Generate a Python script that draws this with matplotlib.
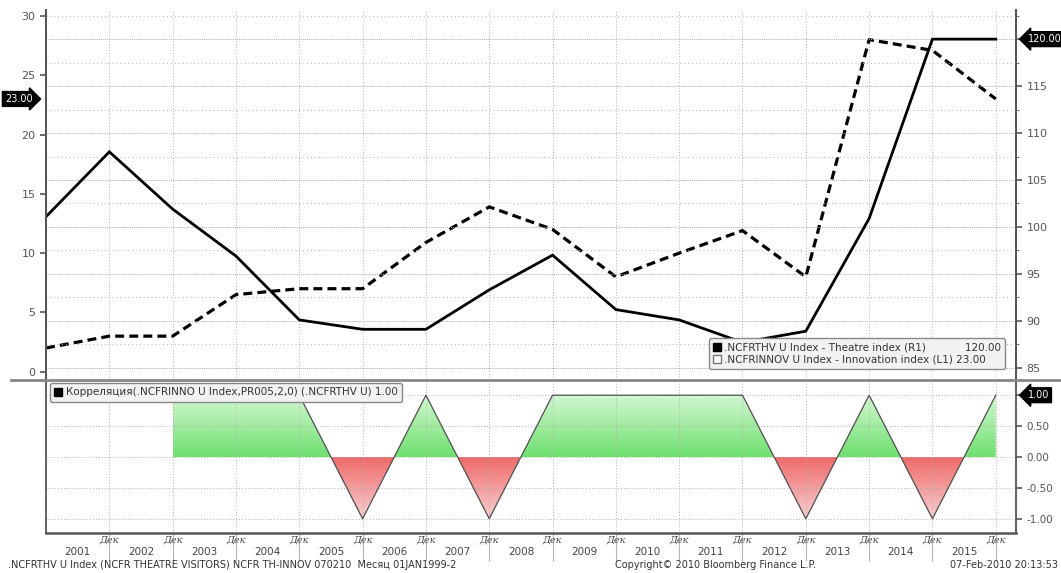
import numpy as np
import matplotlib.pyplot as plt
import matplotlib.transforms as mtransforms
from matplotlib.colors import LinearSegmentedColormap
from matplotlib.patches import PathPatch
from matplotlib.path import Path
from matplotlib.lines import Line2D

# December of each year
years = np.arange(2000, 2016)
theatre = [101.1, 108.0, 101.9, 96.9, 90.1, 89.1, 89.1, 93.3, 97.0, 91.2,
           90.1, 87.7, 88.9, 100.9, 120.0, 120.0]          # R1
innovation = [2.0, 3.0, 3.0, 6.5, 7.0, 7.0, 10.9, 13.9, 12.0, 8.0,
              10.0, 11.9, 8.0, 28.0, 27.1, 23.0]            # L1
correlation = [np.nan, np.nan, 1, 1, 1, -1, 1, -1, 1, 1, 1, 1, -1, 1, -1, 1]
year_labels = [str(y) for y in range(2001, 2016)]
month_label = 'Дек'

GRAY = '#555555'
GRID = '#b0b0b0'

fig = plt.figure(figsize=(10.61, 5.73), dpi=100)
ax = fig.add_axes([0.0434, 0.3368, 0.9142, 0.6457])
ax2 = ax.twinx()
axc = fig.add_axes([0.0434, 0.0698, 0.9142, 0.2653])

xmin, xmax = 2000, 2015.32

# ---- top panel ----
ax.plot(years, innovation, color='black', lw=2.3, ls=(0, (2.8, 1.6)))
ax2.plot(years, theatre, color='black', lw=2.0, solid_joinstyle='miter')

ax.set_xlim(xmin, xmax)
ax.set_ylim(-0.7, 30.5)
ax2.set_ylim(83.7, 123.1)

ax.set_yticks(range(0, 31, 5))
ax2.set_yticks(range(85, 121, 5))
ax2.set_yticks(np.arange(87.5, 123, 5), minor=True)
ax2.set_yticklabels([str(v) for v in range(85, 116, 5)] + [''])
ax.set_xticks(years[1:])
ax.tick_params(axis='x', length=0, labelbottom=False)
ax.tick_params(axis='y', colors=GRAY, labelsize=8, length=4, width=1.2)
ax2.tick_params(axis='y', colors=GRAY, labelsize=8, length=4, width=1.2)
ax2.tick_params(axis='y', which='minor', length=2, color=GRAY)

ax2.grid(axis='y', which='major', color=GRID, ls=(0, (1, 1)), lw=0.7)
ax2.grid(axis='y', which='minor', color=GRID, ls=(0, (1, 3)), lw=0.7)
ax.grid(axis='x', color=GRID, ls=(0, (1, 2)), lw=0.7)

for a in (ax, ax2):
    a.spines['top'].set_visible(False)
    a.spines['bottom'].set_visible(False)
    a.spines['left'].set_color(GRAY)
    a.spines['right'].set_color(GRAY)
    a.spines['left'].set_linewidth(1.3)
    a.spines['right'].set_linewidth(1.3)

# value tags
ax.text(-0.014, innovation[-1], f'{innovation[-1]:.2f}', color='white', fontsize=7,
        ha='right', va='center', transform=mtransforms.blended_transform_factory(ax.transAxes, ax.transData),
        bbox=dict(boxstyle='rarrow,pad=0.25', fc='black', ec='black'), clip_on=False)
ax2.text(1.012, theatre[-1], f'{theatre[-1]:.2f}', color='white', fontsize=7,
         ha='left', va='center', transform=mtransforms.blended_transform_factory(ax2.transAxes, ax2.transData),
         bbox=dict(boxstyle='larrow,pad=0.25', fc='black', ec='black'), clip_on=False, zorder=10)

handles = [Line2D([], [], ls='none', marker='s', ms=6, mfc='black', mec='black'),
           Line2D([], [], ls='none', marker='s', ms=6, mfc='white', mec='#777777')]
labels = [f'.NCFRTHV U Index - Theatre index (R1)            {theatre[-1]:.2f}',
          f'.NCFRINNOV U Index - Innovation index (L1) {innovation[-1]:.2f}']
leg = ax2.legend(handles, labels, loc='lower right', bbox_to_anchor=(0.989, 0.03), fontsize=7.5,
                 frameon=True, fancybox=True, handlelength=0.8, handletextpad=0.3,
                 borderpad=0.4, labelspacing=0.2, borderaxespad=0)
leg.get_frame().set_facecolor('#f2f2f2')
leg.get_frame().set_edgecolor('#888888')
leg.get_frame().set_alpha(1)
for t in leg.get_texts():
    t.set_color('#333333')

# ---- correlation panel ----
corr = np.array(correlation, dtype=float)
ok = ~np.isnan(corr)
cx, cy = years[ok], corr[ok]

green = LinearSegmentedColormap.from_list('g', ['#6fe06f', '#d2f7d2'])
red = LinearSegmentedColormap.from_list('r', ['#f9d0d0', '#ee6a6a'])
grad = np.linspace(0, 1, 256).reshape(-1, 1)

pos = axc.fill_between(cx, 0, cy, where=cy >= 0, interpolate=True, color='none', lw=0)
neg = axc.fill_between(cx, 0, cy, where=cy <= 0, interpolate=True, color='none', lw=0)
for coll, cmap, ext in ((pos, green, (cx[0], cx[-1], 0, 1)), (neg, red, (cx[0], cx[-1], -1, 0))):
    clip = PathPatch(Path.make_compound_path(*coll.get_paths()), transform=axc.transData,
                     fc='none', ec='none')
    axc.add_patch(clip)
    im = axc.imshow(grad, extent=ext, origin='lower', cmap=cmap, aspect='auto', zorder=1)
    im.set_clip_path(clip)

axc.plot(years, corr, color='#505050', lw=0.9, zorder=3)

axc.set_xlim(xmin, xmax)
axc.set_ylim(-1.23, 1.23)
axc.yaxis.tick_right()
axc.set_yticks([-1, -0.5, 0, 0.5, 1])
axc.set_yticklabels(['-1.00', '-0.50', '0.00', '0.50', ''])
axc.tick_params(axis='y', colors=GRAY, labelsize=7.5, length=4, width=1.2)
axc.set_xticks(years[1:])
axc.set_xticklabels([])
axc.tick_params(axis='x', length=20, width=0.8, color='#b5b5b5')
axc.grid(axis='both', color=GRID, ls=(0, (1, 2)), lw=0.7)
axc.spines['top'].set_visible(False)
for s in ('left', 'right', 'bottom'):
    axc.spines[s].set_color(GRAY)
    axc.spines[s].set_linewidth(1.3)
axc.spines['bottom'].set_linewidth(1.8)

axc.text(1.012, corr[-1], f'{corr[-1]:.2f}', color='white', fontsize=7,
         ha='left', va='center', transform=mtransforms.blended_transform_factory(axc.transAxes, axc.transData),
         bbox=dict(boxstyle='larrow,pad=0.25', fc='black', ec='black'), clip_on=False, zorder=10)

cleg = axc.legend([Line2D([], [], ls='none', marker='s', ms=6, mfc='black', mec='black')],
                  [f'Корреляция(.NCFRINNO U Index,PR005,2,0) (.NCFRTHV U) {corr[-1]:.2f}'],
                  loc='upper left', bbox_to_anchor=(0.004, 0.985), fontsize=7.5, frameon=True,
                  fancybox=True, handlelength=0.8, handletextpad=0.3, borderpad=0.4, borderaxespad=0)
cleg.get_frame().set_facecolor('#f2f2f2')
cleg.get_frame().set_edgecolor('#888888')
cleg.get_frame().set_alpha(1)
cleg.get_texts()[0].set_color('#333333')

# x labels: month under each December tick, years centred between them
tr = mtransforms.blended_transform_factory(axc.transData, axc.transAxes)
for y in years[1:]:
    axc.text(y, -0.045, month_label, transform=tr, ha='center', va='center', fontsize=7,
             family='DejaVu Serif', style='italic', color='#444444')
for y, lab in zip(years[1:], year_labels):
    axc.text(y - 0.5, -0.125, lab, transform=tr, ha='center', va='center', fontsize=7.5, color='#444444')

# separator between panels
fig.add_artist(Line2D([0.01, 1.0], [0.3368, 0.3368], transform=fig.transFigure, color='#888888', lw=2))

fig.text(0.008, 0.014, '.NCFRTHV U Index (NCFR THEATRE VISITORS) NCFR TH-INNOV 070210  Месяц 01JAN1999-2',
         fontsize=7, color='#333333', va='center')
fig.text(0.674, 0.014, 'Copyright© 2010 Bloomberg Finance L.P.', fontsize=7, color='#333333',
         ha='center', va='center')
fig.text(0.997, 0.014, '07-Feb-2010 20:13:53', fontsize=7, color='#333333', ha='right', va='center')

fig.savefig('out.png', dpi=100)
